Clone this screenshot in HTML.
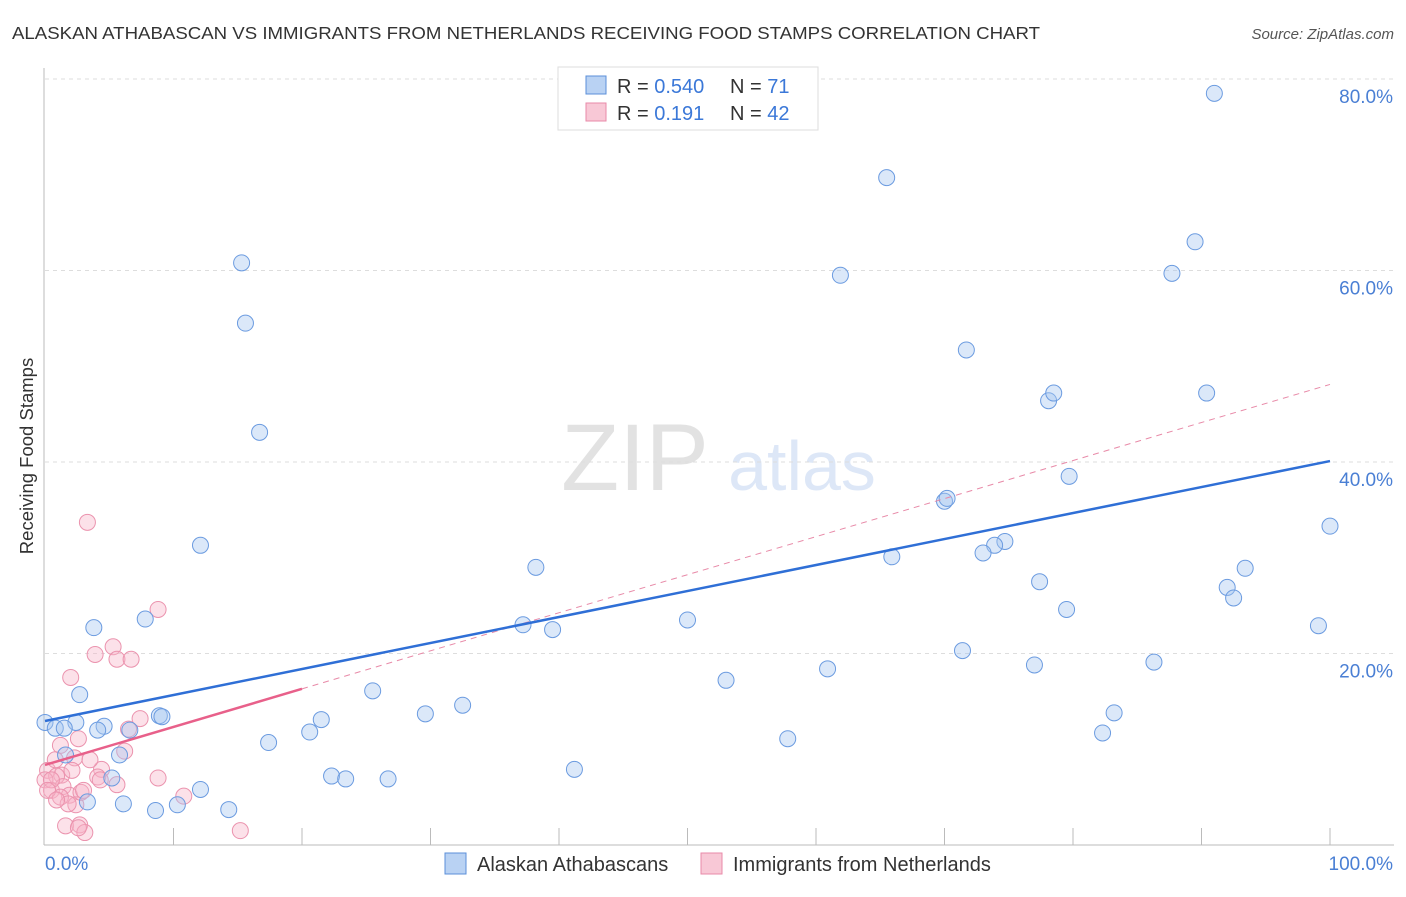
<!DOCTYPE html>
<html><head><meta charset="utf-8">
<style>
body{margin:0;background:#fff;font-family:"Liberation Sans",sans-serif;}
svg text{font-family:"Liberation Sans",sans-serif;}
</style></head>
<body>
<svg id="chart" width="1406" height="892" xmlns="http://www.w3.org/2000/svg">
<text x="12" y="39" font-size="17.5" fill="#333" textLength="1028" lengthAdjust="spacingAndGlyphs">ALASKAN ATHABASCAN VS IMMIGRANTS FROM NETHERLANDS RECEIVING FOOD STAMPS CORRELATION CHART</text>
<text x="1394" y="39" font-size="15" fill="#555" font-style="italic" text-anchor="end">Source: ZipAtlas.com</text>
<text transform="translate(33,456) rotate(-90)" font-size="18.5" fill="#333" text-anchor="middle">Receiving Food Stamps</text>
<g opacity="0.18">
<text x="635" y="490" font-size="95" font-family="Liberation Serif, serif" fill="#666" text-anchor="middle">ZIP</text>
<text x="802" y="490" font-size="70" fill="#4a7fd4" text-anchor="middle">atlas</text>
</g>
<g id="grid"></g>
<g id="axes"></g>
<g id="points"></g>
<g id="lines"></g>
<g>
<rect x="558" y="67" width="260" height="63" fill="#fff" stroke="#ddd"/>
<rect x="586" y="76" width="20" height="18" fill="#b9d2f3" stroke="#5b8fd8"/>
<rect x="586" y="103" width="20" height="18" fill="#f8c8d6" stroke="#e88aa8"/>
<text x="617" y="93" font-size="20" fill="#333">R = <tspan fill="#3b78d8">0.540</tspan></text>
<text x="730" y="93" font-size="20" fill="#333">N = <tspan fill="#3b78d8"> 71</tspan></text>
<text x="617" y="120" font-size="20" fill="#333">R = <tspan fill="#3b78d8">  0.191</tspan></text>
<text x="730" y="120" font-size="20" fill="#333">N = <tspan fill="#3b78d8">42</tspan></text>
</g>
<g>
<rect x="445" y="853" width="21" height="21" fill="#b9d2f3" stroke="#5b8fd8"/>
<text x="477" y="871" font-size="20" fill="#333">Alaskan Athabascans</text>
<rect x="701" y="853" width="21" height="21" fill="#f8c8d6" stroke="#e88aa8"/>
<text x="733" y="871" font-size="20" fill="#333">Immigrants from Netherlands</text>
</g>
</svg>
<script>
const blueX=[91.0,65.5,15.3,61.9,89.5,87.7,15.6,71.7,78.1,78.5,90.4,16.7,79.7,70.0,70.2,12.1,74.7,73.9,73.0,65.9,38.2,100,77.4,93.4,92.0,92.5,79.5,7.8,3.8,37.2,39.5,50.0,99.1,71.4,77.0,86.3,60.9,53.0,2.7,25.5,32.5,83.2,29.6,21.5,8.9,9.1,0,0.8,2.4,1.5,4.6,4.1,6.6,20.6,82.3,17.4,57.8,5.8,1.6,5.2,22.3,23.4,26.7,41.2,12.1,3.3,6.1,10.3,8.6,14.3];
const blueY=[78.5,69.7,60.8,59.5,63.0,59.7,54.5,51.7,46.4,47.2,47.2,43.1,38.5,35.9,36.2,31.3,31.7,31.3,30.5,30.1,29.0,33.3,27.5,28.9,26.9,25.8,24.6,23.6,22.7,23.0,22.5,23.5,22.9,20.3,18.8,19.1,18.4,17.2,15.7,16.1,14.6,13.8,13.7,13.1,13.5,13.4,12.8,12.2,12.8,12.2,12.4,12.0,12.0,11.8,11.7,10.7,11.1,9.4,9.4,7.0,7.2,6.9,6.9,7.9,5.8,4.5,4.3,4.2,3.6,3.7];
const pinkX=[3.3,8.8,5.3,3.9,5.6,6.7,2.0,7.4,6.5,1.2,2.6,6.2,2.3,0.2,1.3,0.9,4.4,4.1,5.6,8.8,0,0.5,1.4,1.9,1.2,2.4,2.8,10.8,1.8,1.6,2.7,3.1,2.6,15.2,0.8,3.5,2.1,0.5,0.2,0.9,3.0,4.3];
const pinkY=[33.7,24.6,20.7,19.9,19.4,19.4,17.5,13.2,12.1,10.4,11.1,9.8,9.1,7.8,7.3,7.2,7.9,7.1,6.3,7.0,6.8,5.7,6.1,5.2,5.0,4.2,5.5,5.1,4.3,2.0,2.1,1.3,1.8,1.5,8.9,8.9,7.8,6.8,5.7,4.7,5.7,6.8];
const blueTrend=[12.95,40.1];
const pinkTrend=[8.36,48.1];
const yTicks=[20,40,60,80];
const yTickLabels=["20.0%","40.0%","60.0%","80.0%"];
const xEndLabels=["0.0%","100.0%"];
const NS="http://www.w3.org/2000/svg";
const X=v=>45+v*12.85, Y=v=>845-v*9.575;
function mk(p,tag,a){const e=document.createElementNS(NS,tag);for(const k in a)e.setAttribute(k,a[k]);document.getElementById(p).appendChild(e);return e;}
yTicks.forEach((t,i)=>{
 const g=mk('grid','line',{x1:45,x2:1394,y1:Y(t),y2:Y(t),stroke:'#ddd','stroke-dasharray':'4,4'});
 
 
 const l=mk('grid','text',{x:1393,y:Y(t)+24,'font-size':19,fill:'#4a7fd4','text-anchor':'end'});l.textContent=yTickLabels[i];
 
 
});
mk('axes','line',{x1:44,x2:44,y1:68,y2:845,stroke:'#bbb'});
mk('axes','line',{x1:44,x2:1394,y1:845,y2:845,stroke:'#bbb'});
for(let i=1;i<=10;i++){const t=mk('axes','line',{x1:X(i*10),x2:X(i*10),y1:828,y2:845,stroke:'#bbb'});
 
 }
const xl0=mk('axes','text',{x:45,y:870,'font-size':19,fill:'#4a7fd4'});xl0.textContent=xEndLabels[0];


const xl1=mk('axes','text',{x:1393,y:870,'font-size':19,fill:'#4a7fd4','text-anchor':'end'});xl1.textContent=xEndLabels[1];


pinkX.forEach((x,i)=>{const c=mk('points','circle',{cx:X(x),cy:Y(pinkY[i]),r:8,fill:'rgba(248,180,200,0.4)',stroke:'#eb93ae','stroke-width':1});
 
 });
blueX.forEach((x,i)=>{const c=mk('points','circle',{cx:X(x),cy:Y(blueY[i]),r:8,fill:'rgba(164,198,240,0.4)',stroke:'#6b9be0','stroke-width':1});
 
 });
const pl=v=>pinkTrend[0]+(pinkTrend[1]-pinkTrend[0])*v/100;
const pd=mk('lines','line',{x1:X(20),y1:Y(pl(20)),x2:X(100),y2:Y(pl(100)),stroke:'#e88aa8','stroke-dasharray':'6,5','stroke-width':1});


const ps=mk('lines','line',{x1:X(0),y1:Y(pl(0)),x2:X(20),y2:Y(pl(20)),stroke:'#e8608a','stroke-width':2.5});


const bl=mk('lines','line',{x1:X(0),y1:Y(blueTrend[0]),x2:X(100),y2:Y(blueTrend[1]),stroke:'#2f6fd6','stroke-width':2.5});


</script>
</body></html>
